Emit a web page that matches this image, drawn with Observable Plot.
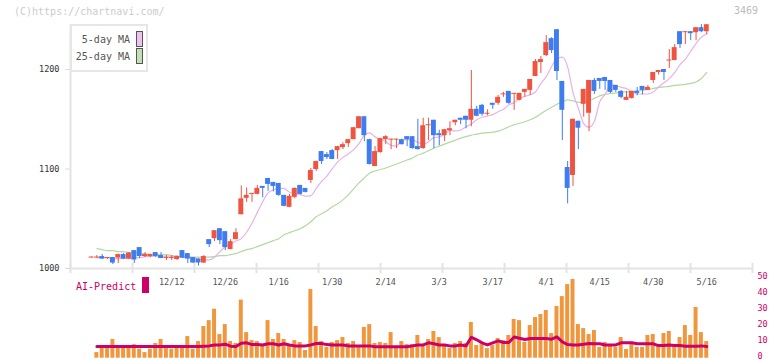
<!DOCTYPE html>
<html><head><meta charset="utf-8">
<script src="https://cdn.jsdelivr.net/npm/d3@7"></script>
<script src="https://cdn.jsdelivr.net/npm/@observablehq/plot@0.6"></script>
<style>
body{margin:0;background:#fff;}
#wrap{position:relative;width:772px;height:361px;overflow:hidden;font-family:"DejaVu Sans Mono",monospace;background:#fff;}
#wrap svg{position:absolute;left:0;top:0;}
.abs{position:absolute;white-space:nowrap;font-size:10px;line-height:12px;}
</style></head><body><div id="wrap"></div>
<script>
// ---- Data ----
const opens  = [1010.5,1010.5,1012,1010,1011,1010.5,1014,1009.5,1018,1021,1012,1012,1016,1013,1010,1010,1009,1018,1015,1011,1009.5,1005.5,1029,1030,1040,1037,1019,1029,1054,1070.5,1074.5,1074.5,1082.5,1090.5,1086.5,1085.5,1073.5,1061.5,1071.5,1083.5,1080.5,1088.5,1099.5,1117.5,1114.5,1118.5,1118.5,1121.5,1125.5,1129.5,1140.5,1152.5,1129.5,1102.5,1116.5,1129.5,1129,1129,1129.5,1132.5,1132.5,1122.5,1120.5,1143.5,1149,1135.5,1133.5,1138.5,1146.5,1151,1153,1149,1160,1164,1155,1166,1166,1174.5,1178,1175,1169,1177,1179,1193,1207,1214,1231,1240,1188,1101.5,1093.5,1148,1165,1156,1189,1191,1192,1189,1184,1178,1169,1171,1178,1183,1179,1189,1197,1200,1208.5,1209,1238,1237,1238,1237,1242,1238];
const highs  = [1011.5,1013,1014,1011,1011,1014.5,1015,1016,1018,1021,1016,1014.5,1016,1016,1013,1013,1012.5,1018,1015,1011,1009.5,1013,1029,1038,1040,1037,1029,1040,1083,1081,1075.5,1083.5,1082.5,1090.5,1086.5,1085.5,1073.5,1074.5,1081,1083.5,1080.5,1100.5,1108,1117.5,1116.5,1119.5,1122.5,1126.5,1129.5,1141.7,1152.8,1152.8,1130,1122.5,1130.6,1133.5,1130,1130,1130,1132.5,1132.5,1150,1151,1151,1149,1139,1139.7,1147.5,1149,1151,1153,1199,1163,1165,1159.5,1166,1174,1177,1178,1176,1176,1180,1190,1210,1213,1234,1232,1240,1188,1107.5,1150,1148,1180,1189,1191,1191,1192,1189,1184,1179,1178,1178,1182,1183,1184,1197,1199,1200,1220,1225,1238,1238,1238,1242,1245,1245];
const lows   = [1010.5,1010.5,1009,1009,1004,1005,1009,1009,1005,1010,1011,1011,1011,1010,1008,1008,1008,1010,1005,1005,1002.5,1005,1021,1027,1024,1018,1019,1029,1054,1066.5,1066.5,1074,1071,1077.5,1077,1072.5,1062,1061,1070,1074,1076,1085.5,1097.5,1104.5,1109.5,1109.5,1109.5,1119.5,1121.5,1129.5,1140.5,1127.5,1104,1102.5,1116,1124.5,1119.5,1120.5,1124,1122.5,1120,1119,1120,1128.5,1120.5,1123.5,1127.5,1133.5,1143.5,1144.5,1140.5,1142.5,1152.5,1153,1153.5,1160,1164,1172,1165,1159,1168.5,1172,1174,1193,1196,1213,1216,1189,1128.5,1065,1082.5,1119.5,1152,1137.5,1175,1180,1179,1176,1177,1170.5,1169,1170,1173.5,1174.5,1179,1186,1194.5,1189,1201,1209,1221,1225,1229,1229,1237,1235];
const closes = [1011.5,1011.5,1009.5,1011,1005.5,1014,1009.5,1015.5,1008.5,1012,1014,1014,1012,1010,1011,1011,1012,1010.5,1009.5,1005.5,1005.5,1012,1024,1038,1028,1021,1027,1036,1070,1073.5,1075.5,1080.5,1080.5,1084.5,1082.5,1073.5,1062.5,1072.5,1080.5,1074.5,1076.5,1098.5,1107.5,1107.5,1111.5,1109.5,1122.5,1124.5,1129.5,1141.5,1152.5,1133.5,1104.5,1117.5,1130.5,1132.5,1130,1130,1124.5,1129.5,1120.5,1119.5,1143.5,1144.5,1133.5,1133.5,1139.5,1140.5,1149,1149,1149,1160,1153,1155,1156,1164,1172,1175.5,1166,1176,1176,1180,1190,1208,1210,1227,1219,1198,1159,1080.5,1150,1141,1180,1189,1178,1188,1188,1177,1179,1172,1172,1178,1176,1179,1182,1197,1199,1197,1209.5,1222,1225,1238,1236,1242,1238,1245];

// moving averages, volume and AI-predict (positions 1..115)
const ma5 = [1011,1011,1011,1010.5,1009.6,1010.2,1009.9,1011.1,1010.6,1011.9,1011.9,1012.8,1012.1,1012.4,1012.2,1011.6,1011.2,1010.9,1010.8,1009.7,1008.6,1008.6,1011.3,1017,1021.5,1024.6,1027.6,1030,1036.4,1045.5,1056.4,1067.1,1076,1078.9,1080.7,1080.3,1076.7,1075.1,1074.3,1072.7,1073.3,1080.5,1087.5,1092.9,1100.3,1106.9,1111.7,1115.1,1119.5,1125.5,1134.1,1136.3,1132.3,1129.9,1127.7,1123.7,1123,1128.1,1129.5,1129.3,1126.9,1124.8,1127.5,1131.5,1132.3,1134.9,1138.9,1138.3,1139.2,1142.3,1145.4,1149.5,1152,1153.2,1154.6,1157.6,1160,1164.5,1166.7,1170.7,1173.1,1174.7,1177.6,1186,1192.8,1203,1210.8,1212.4,1202.6,1176.7,1161.3,1145.7,1142,1148,1167.6,1175.2,1184.6,1184,1182,1180.8,1177.6,1175.6,1175.4,1175.4,1177.4,1182.4,1186.6,1190.8,1196.9,1204.9,1210.5,1218.3,1226.1,1232.6,1235.8];
const ma25 = [1020,1019,1018,1018,1017,1017,1016,1016,1015,1015,1014,1014,1014,1014,1013,1012.5,1012,1012,1011.5,1011.5,1011.5,1011.5,1012,1013,1013,1014,1015,1017,1019,1020,1022,1024,1026,1028,1030,1034,1036,1038,1040,1043,1047,1052,1055,1058,1062,1065,1069,1074,1080,1086,1091,1096,1098,1099.5,1101,1103,1105,1107,1109,1111,1114,1116,1118.5,1121,1123,1125,1127,1129,1131,1132.5,1134,1135,1136,1136.5,1137,1138,1140,1142.5,1144.5,1146,1147.5,1149.5,1152,1155.5,1159,1162,1165,1167.5,1169.5,1168.5,1167,1167,1168.5,1171,1173.5,1175,1176,1176.5,1177,1177.5,1178,1178.5,1179,1180,1181,1182,1182.5,1183,1184,1184.5,1185,1186,1187.5,1191,1197];
const volume = [3.5,7.3,7.3,11.7,7.3,7.3,7.3,8.5,5.6,3.5,5.6,9.2,11.7,6.7,5.6,6.7,6.7,13.5,5.6,10.4,19.8,23.5,30.6,14.8,21,10.4,9.2,36.3,16,11,10.4,8.75,23.5,11.7,15.4,11.7,8.5,11,9.8,4.8,42.9,19.8,10.4,6.7,9.8,11,12.9,9.2,10.4,7.3,19.2,21,9.2,9.8,9.2,16,6.7,10.4,8.5,8.5,14.2,7.3,11.7,16.7,12.9,8.5,6,9.2,10.4,9.2,22.3,7.9,8.5,6,7.9,12.3,11,14.2,24.2,23.5,9.8,20.4,25.4,27.3,29.8,15.4,32.3,38.5,46,49.2,21,18.5,14.8,17.3,6.7,9.8,7.9,6.7,12.9,5.4,9.8,6.7,6.7,14.2,14.8,7.3,15.4,16.7,7.3,12.9,20.4,14.2,31.7,16,10.4];
const aiPredict = [7.3,7.3,7.3,7.3,7.3,7.3,7.3,7.3,7.3,7.3,7.3,7.3,7.3,7.3,7.3,7.3,7.3,7.3,7.3,7.3,7.5,7.7,8.3,8.3,8.75,7.5,7.3,9.4,9.6,8.5,8.5,8.3,9,9,8.3,9,8.3,7.7,7.7,7.7,8.3,9.2,9.2,8.5,8.3,8.3,8.3,7.7,7.7,7.7,7.7,7.7,7.1,7.1,7.1,7.1,7.1,7.1,7.1,7.7,8.3,8.3,9.6,9,8.3,8.3,7.7,7.7,8.3,7.7,13.1,11.5,9.6,8.3,9.6,10.8,9.8,9.8,13.3,12.5,11.7,12.3,12.3,12.3,12.3,11.9,13.3,10.2,8.5,8.3,8.3,8.75,9.2,9,9,8.3,8.3,8.3,9.6,9.6,9.6,9,9,9,9,7.9,7.9,8.3,7.9,7.9,7.5,7.5,7.5,7.7,7.3];

const dateLabels = ["12/12","12/26","1/16","1/30","2/14","3/3","3/17","4/1","4/15","4/30","5/16"];
const dateIndex  = [15,25,35,45,55,65,75,85,95,105,115];
const priceTicks = [1000,1100,1200];
const volTicks   = [0,10,20,30,40,50];

// ---- Build ----
const RED = "#f0533f", BLUE = "#3f7cef";
const candles = opens.map((o,i)=>({i, o, h:highs[i], l:lows[i], c:closes[i]}));
const series = ma5.map((v,k)=>({p:k+1, ma5:v, ma25:ma25[k], vol:volume[k], ai:aiPredict[k]}));
const X0 = -3.925, X1 = 123.55;
const xTicks = d3.range(12).map(k => X0 + k*(X1-X0)/11);
const dates = dateLabels.map((t,j)=>({t, i:dateIndex[j]}));
const FONT = "DejaVu Sans Mono";
const colorOf = d => d.c >= d.o ? RED : BLUE;

const main = Plot.plot({
  width:772, height:361,
  x:{type:"linear", domain:[X0,X1], range:[70,752], axis:null},
  y:{type:"linear", domain:[1000,1250], range:[268,19.25], axis:null},
  style:{background:"transparent", overflow:"visible", fontFamily:FONT},
  marks:[
    Plot.ruleX([X0], {y1:1000, y2:1245, stroke:"#e3e3e3", strokeWidth:2}),
    Plot.ruleY([1000], {x1:X0, x2:X1, stroke:"#e3e3e3", strokeWidth:2}),
    Plot.ruleX(xTicks, {y1:995, y2:1005, stroke:"#e3e3e3", strokeWidth:2}),
    Plot.ruleY(priceTicks, {x1:X0-0.95, x2:X0, stroke:"#dcdcdc", strokeWidth:1}),
    Plot.text(priceTicks, {x:X0, y:d=>d, dx:-11, text:d=>String(d), textAnchor:"end", fill:"#333", fontSize:8.5, fontFamily:FONT}),
    Plot.text(dates, {x:"i", y:1000, dy:14, text:"t", fill:"#555", fontSize:8.5, fontFamily:FONT}),
    Plot.line(series, {x:"p", y:"ma25", stroke:"#b2d9a2", strokeWidth:1.2, curve:"monotone-x"}),
    Plot.line(series, {x:"p", y:"ma5", stroke:"#e8b2e8", strokeWidth:1.2, curve:"monotone-x"}),
    Plot.ruleX(candles, {x:"i", y1:"l", y2:"h", stroke:colorOf, strokeWidth:1}),
    Plot.rect(candles, {x1:d=>d.i-0.46, x2:d=>d.i+0.46, y1:"o", y2:"c", fill:colorOf})
  ]
});

const vol = Plot.plot({
  width:772, height:361,
  x:{type:"linear", domain:[X0,X1], range:[70,752], axis:null},
  y:{type:"linear", domain:[0,50], range:[357.7,277.7], axis:null},
  style:{background:"transparent", overflow:"visible", fontFamily:FONT},
  marks:[
    Plot.rect(series, {x1:d=>d.p-0.37, x2:d=>d.p+0.37, y1:0, y2:"vol", fill:"#f0963c"}),
    Plot.line(series, {x:"p", y:"ai", stroke:"#cc0066", strokeWidth:3}),
    Plot.text(volTicks, {x:X1, y:d=>d, dx:5, dy:-2, text:d=>String(d), textAnchor:"start", fill:"#cc0066", fontSize:8.5, fontFamily:FONT})
  ]
});

const wrap = document.getElementById("wrap");
wrap.appendChild(vol);
wrap.appendChild(main);

function addDiv(html, css){ const d=document.createElement("div"); d.className="abs"; d.innerHTML=html; Object.assign(d.style, css); wrap.appendChild(d); return d; }
addDiv("(C)https://chartnavi.com/", {left:"14px", top:"6px", color:"#cccccc"});
addDiv("3469", {left:"734px", top:"5px", color:"#bbbbbb"});
// legend
addDiv("", {left:"70px", top:"24px", width:"74px", height:"44px", border:"2px solid #e6e6e6", background:"#fff"});
addDiv("5-day MA", {right:(772-130)+"px", top:"34px", color:"#555"});
addDiv("25-day MA", {right:(772-130)+"px", top:"51px", color:"#555"});
addDiv("", {left:"136px", top:"31px", width:"5px", height:"14px", border:"1px solid #555", background:"#f0c0f0"});
addDiv("", {left:"136px", top:"48px", width:"5px", height:"14px", border:"1px solid #555", background:"#c0e2b2"});
// AI-Predict label
addDiv("AI-Predict", {left:"76px", top:"281px", color:"#cc0066"});
addDiv("", {left:"142px", top:"277px", width:"7px", height:"16px", background:"#cc0066"});
</script></body></html>
